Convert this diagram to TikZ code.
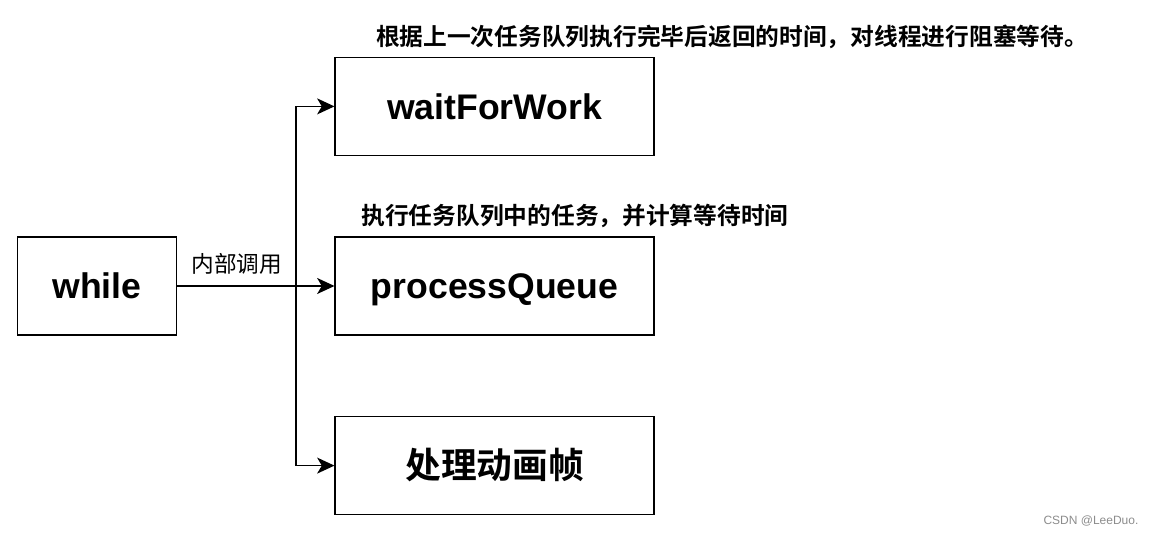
\documentclass[tikz,border=0pt]{standalone}
\usepackage{fontspec}
\setmainfont{Liberation Sans}
\newfontfamily\cjk[BoldFont={Noto Sans CJK SC Bold}]{Noto Sans CJK SC}
\usepackage{tikz}
\usetikzlibrary{positioning, arrows.meta, calc}

\begin{document}
\begin{tikzpicture}[
  x=0.75pt, y=-0.75pt,
  font=\fontsize{26.7}{30}\selectfont\bfseries,
  func/.style={draw, line width=1.2pt, minimum width=239pt,
               minimum height=73.5pt, align=center,
               text height=19.2pt, text depth=0pt},
  note/.style={font=\cjk\fontsize{17.8}{20}\selectfont\bfseries, inner sep=0pt},
  arr/.style={-{Stealth[length=13pt, width=12pt, inset=3.5pt]}, line width=1.1pt}
]
\useasboundingbox (0,0) rectangle (1154,534);
\node[func, minimum width=119pt] (while) at (97,286) {while};
\node[func, right=118pt of while] (proc) {processQueue};
\node[func, above=60pt of proc] (wait) {waitForWork};
\node[func, below=60pt of proc, text height=22pt, text depth=2pt,
  font=\cjk\fontsize{26.8}{30}\selectfont\bfseries] (frame) {处理动画帧};
\coordinate (split) at ($(while.east)!0.755!(proc.west)$);
% notes over the boxes
\node[note] (noteWait) at (732,37) {根据上一次任务队列执行完毕后返回的时间，对线程进行阻塞等待。};
\node[note] (noteProc) at (575,216) {执行任务队列中的任务，并计算等待时间};
\draw[arr] (while.east) -- node[pos=0.38, above=5pt, font=\cjk\fontsize{17}{19}\selectfont]
  (callLabel) {内部调用} (proc.west);
\draw[arr] (split) |- (wait.west);
\draw[arr] (split) |- (frame.west);
\node[font=\fontsize{9}{10}\selectfont, text=black!45] (mark) at (1091,521) {CSDN @LeeDuo.};
\end{tikzpicture}
\end{document}
